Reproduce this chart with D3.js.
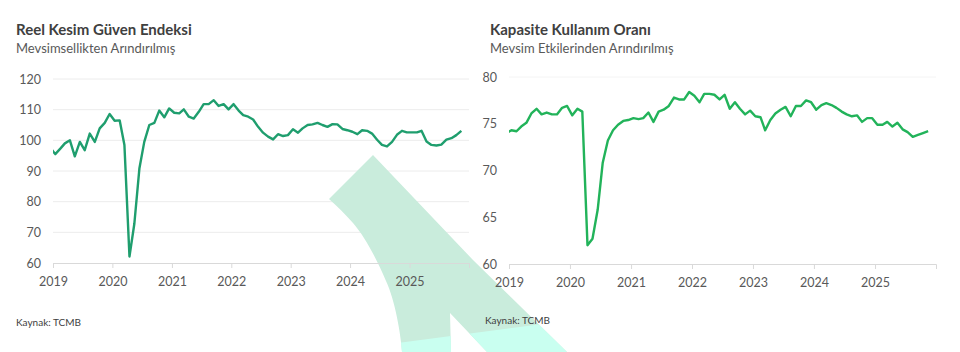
<!DOCTYPE html>
<html>
<head>
<meta charset="utf-8">
<script src="https://cdn.jsdelivr.net/npm/d3@7"></script>
<style>
  body { margin: 0; background: #fff; }
  svg { display: block; font-family: Lato, "Open Sans", sans-serif; }
  .title { font-size: 15px; font-weight: 700; fill: #404040; }
  .subtitle { font-size: 13px; fill: #595959; }
  .tick text { font-size: 12.5px; fill: #595959; font-family: Lato, sans-serif; }
  .source { font-size: 10px; fill: #404040; font-family: "Liberation Sans Narrow", Lato, sans-serif; }
</style>
</head>
<body>
<div id="chart"></div>
<script>
// monthly series, Dec 2018 .. Nov 2025 (first point sits just left of the axis and is clipped)
const startMonth = [2018, 11];

const rkgeValues = [
  97.6,
  95.5, 97.3, 99.0, 100.0, 94.8, 99.5, 96.8, 102.2, 99.5, 103.9, 105.7, 108.6,
  106.4, 106.5, 98.5, 62.1, 72.8, 90.8, 99.5, 105.0, 105.7, 109.7, 107.5, 110.4,
  109.0, 108.8, 110.1, 107.7, 107.1, 109.3, 111.8, 111.8, 113.1, 111.2, 111.8, 110.1,
  111.8, 109.7, 108.2, 107.7, 106.8, 104.4, 102.5, 101.2, 100.3, 102.0, 101.4, 101.7,
  103.6, 102.5, 103.9, 105.0, 105.2, 105.7, 105.0, 104.4, 105.3, 105.2, 103.7, 103.3,
  102.8, 102.0, 103.3, 103.1, 102.2, 100.2, 98.5, 98.0, 99.5, 101.8, 103.1, 102.6,
  102.6, 102.6, 103.1, 99.6, 98.5, 98.3, 98.6, 100.2, 100.7, 101.7, 103.1
];

const kkoValues = [
  74.0,
  74.3, 74.2, 74.7, 75.1, 76.1, 76.6, 76.0, 76.2, 76.0, 76.0, 76.7, 76.9,
  75.9, 76.6, 76.3, 62.0, 62.7, 65.8, 70.8, 73.2, 74.3, 74.9, 75.3, 75.4,
  75.6, 75.5, 75.6, 76.2, 75.2, 76.3, 76.5, 76.9, 77.8, 77.6, 77.6, 78.4,
  78.0, 77.3, 78.2, 78.2, 78.1, 77.6, 78.1, 76.6, 77.3, 76.6, 76.0, 76.4,
  75.8, 75.7, 74.3, 75.4, 76.1, 76.5, 76.8, 75.8, 76.9, 76.9, 77.5, 77.3,
  76.5, 77.0, 77.2, 77.0, 76.7, 76.3, 76.0, 75.8, 75.9, 75.2, 75.6, 75.6,
  74.9, 74.9, 75.2, 74.7, 75.1, 74.4, 74.1, 73.6, 73.8, 74.0, 74.2
];

const yearTicks = [2019, 2020, 2021, 2022, 2023, 2024, 2025];
const rkgeTicks = [60, 70, 80, 90, 100, 110, 120];
const kkoTicks = [60, 65, 70, 75, 80];

const width = 960, height = 352;

const svg = d3.select("#chart").append("svg")
  .attr("width", width)
  .attr("height", height);

const defs = svg.append("defs");

// layers, bottom to top
const gridLayer = svg.append("g").attr("class", "grid-layer");
const arrowLayer = svg.append("g").attr("class", "arrow-layer");
const axisLayer = svg.append("g").attr("class", "axis-layer");
const lineLayer = svg.append("g").attr("class", "line-layer");
const textLayer = svg.append("g").attr("class", "text-layer");

function toSeries(values) {
  return values.map((v, i) => ({
    date: new Date(startMonth[0], startMonth[1] + i, 15),
    value: v
  }));
}

function drawPanel(cfg, values) {
  const data = toSeries(values);

  const x = d3.scaleTime()
    .domain([new Date(2019, 0, 1), new Date(2026, 0, 1)])
    .range([cfg.left, cfg.right]);
  const y = d3.scaleLinear()
    .domain(cfg.domain)
    .range([cfg.bottom, cfg.top]);

  // gridlines
  gridLayer.append("g")
    .selectAll("line")
    .data(cfg.grid)
    .join("line")
      .attr("x1", cfg.left)
      .attr("x2", cfg.right)
      .attr("y1", d => y(d))
      .attr("y2", d => y(d))
      .attr("stroke", cfg.gridColor)
      .attr("stroke-width", 1);

  // x axis
  const xAxis = d3.axisBottom(x)
    .tickValues(yearTicks.map(yr => new Date(yr, 0, 1)))
    .tickFormat(d3.timeFormat("%Y"))
    .tickSize(5)
    .tickPadding(9);

  const xg = axisLayer.append("g")
    .attr("transform", `translate(0,${cfg.bottom})`)
    .call(xAxis);
  xg.select(".domain").attr("stroke", "#d9d9d9");
  xg.selectAll(".tick line").attr("stroke", "#d9d9d9");

  // y axis, labels only
  const yAxis = d3.axisLeft(y)
    .tickValues(cfg.ticks)
    .tickSize(0)
    .tickPadding(cfg.yPad);
  const yg = axisLayer.append("g")
    .attr("transform", `translate(${cfg.left},0)`)
    .call(yAxis);
  yg.select(".domain").remove();

  // line, clipped to the plot so the Dec 2018 point only shows as the start stub
  const clipId = cfg.id + "-clip";
  defs.append("clipPath").attr("id", clipId)
    .append("rect")
      .attr("x", cfg.left)
      .attr("y", 0)
      .attr("width", cfg.right - cfg.left)
      .attr("height", height);

  const line = d3.line()
    .x(d => x(d.date))
    .y(d => y(d.value));

  lineLayer.append("path")
    .datum(data)
    .attr("clip-path", `url(#${clipId})`)
    .attr("fill", "none")
    .attr("stroke", cfg.color)
    .attr("stroke-width", 2.4)
    .attr("stroke-linejoin", "round")
    .attr("d", line);

  // titles and source
  textLayer.append("text").attr("class", "title")
    .attr("x", cfg.textX).attr("y", 35).text(cfg.title);
  textLayer.append("text").attr("class", "subtitle")
    .attr("x", cfg.textX).attr("y", 53).text(cfg.subtitle);
  textLayer.append("text").attr("class", "source")
    .attr("x", cfg.sourceX).attr("y", cfg.sourceY).text("Kaynak: TCMB");
}

drawPanel({
  id: "rkge",
  left: 53, right: 469, top: 79, bottom: 263,
  domain: [60, 120], ticks: rkgeTicks, grid: rkgeTicks.slice(1),
  gridColor: "#ececec", yPad: 12,
  color: "#1f9e6e",
  title: "Reel Kesim Güven Endeksi",
  subtitle: "Mevsimsellikten Arındırılmış",
  textX: 16, sourceX: 16, sourceY: 326
}, rkgeValues);

drawPanel({
  id: "kko",
  left: 509, right: 936, top: 77, bottom: 264,
  domain: [60, 80], ticks: kkoTicks, grid: [80],
  gridColor: "#f4f4f4", yPad: 12,
  color: "#22b35a",
  title: "Kapasite Kullanım Oranı",
  subtitle: "Mevsim Etkilerinden Arındırılmış",
  textX: 490, sourceX: 485, sourceY: 324
}, kkoValues);

// decorative arrow watermark
const arrowPath = "M329,199 L373,155 L473,260 L567,352 L572,360 L490,360 L487,352 " +
  "L450,313 L451,352 L451,360 L402,360 L402,352 C401,335 395,300 386,281 " +
  "C378,262 366,238 353,223 C345,214 337,206 329,199 Z";

defs.append("clipPath").attr("id", "arrow-clip")
  .append("path").attr("d", arrowPath);

const arrow = arrowLayer.append("g")
  .attr("clip-path", "url(#arrow-clip)");
arrow.append("rect")
  .attr("x", 300).attr("y", 140).attr("width", 300).attr("height", 230)
  .attr("fill", "#c9ecdc");
arrow.append("path")
  .attr("d", "M390,344 L580,319 L580,370 L390,370 Z")
  .attr("fill", "#c9fff0");
</script>
</body>
</html>
